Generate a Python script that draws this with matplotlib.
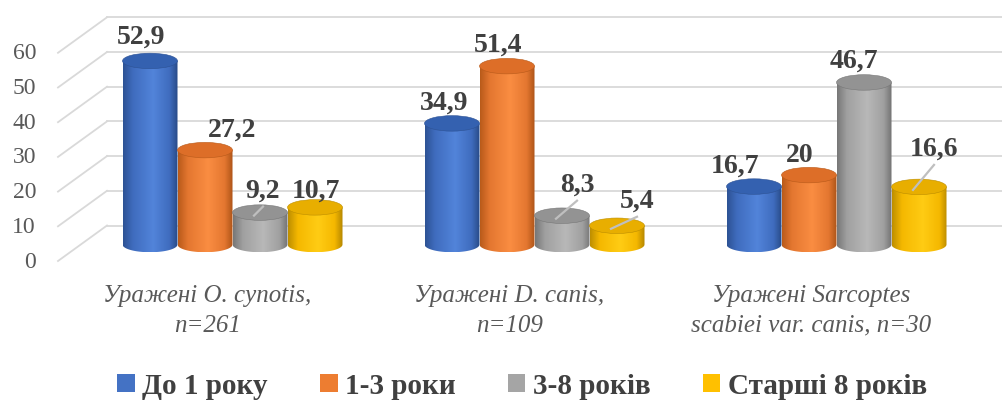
import numpy as np
import matplotlib.pyplot as plt
from matplotlib.patches import Ellipse, PathPatch, Patch
from matplotlib.path import Path
from matplotlib.colors import LinearSegmentedColormap
from matplotlib.transforms import IdentityTransform

plt.rcParams['font.family'] = ['Liberation Serif', 'DejaVu Serif']

# data
categories = ["Уражені O. cynotis,\nn=261",
              "Уражені D. canis,\nn=109",
              "Уражені Sarcoptes\nscabiei var. canis, n=30"]
series_names = ["До 1 року", "1-3 роки", "3-8 років", "Старші 8 років"]
age_0_1 = [52.9, 34.9, 16.7]
age_1_3 = [27.2, 51.4, 20]
age_3_8 = [9.2, 8.3, 46.7]
age_8_plus = [10.7, 5.4, 16.6]
y_ticks = [0, 10, 20, 30, 40, 50, 60]

values = [age_0_1, age_1_3, age_3_8, age_8_plus]

# cylinder colours: (left edge, mid, highlight, right edge, top face, legend)
palette = [
    ("#2d5294", "#3f6cbe", "#5284da", "#284a86", "#3461b0", "#4472c4"),
    ("#b85a1a", "#e47730", "#fa8d42", "#ad5418", "#dd6e28", "#ed7d31"),
    ("#777777", "#a0a0a0", "#b8b8b8", "#727272", "#939393", "#a5a5a5"),
    ("#bd8e00", "#f5b800", "#ffcc14", "#b48600", "#e8ae00", "#ffc000"),
]

# label placement in pixels: (dx from bar centre, baseline height above bar top)
label_shift = [
    [(-9, 17), (-8, 14), (-19, 14)],
    [(27, 13), (-9, 14), (-9, 13)],
    [(3, 15), (15, 24), (-10, 15)],
    [(1, 10), (20, 18), (15, 31)],
]
leader = [
    [False, False, False],
    [False, False, False],
    [True, True, False],
    [False, True, True],
]

W, H, DPI = 10.02, 4.07, 100
fig = plt.figure(figsize=(W, H), dpi=DPI)
ax = fig.add_axes([0, 0, 1, 1])
ax.axis('off')

x_scale = 302.0      # pixels per category
y_scale = 3.47       # pixels per unit
x_first = 232.5      # pixel of the first group centre
y_base = 407 - 244.5 # pixel of the bar floor (from bottom)
xlim = (-x_first / x_scale, (1002 - x_first) / x_scale)
ylim = (-y_base / y_scale, (407 - y_base) / y_scale)
ax.set_xlim(*xlim)
ax.set_ylim(*ylim)

bar_w = 55 / x_scale
ell_h = 15.5 / y_scale
idt = IdentityTransform()


def px(x, y):
    return ax.transData.transform((x, y))


# back wall and side wall gridlines
wall_back_dx, wall_back_dy = 107, 19
front_dx, front_dy = 58, -17.5
grid_c = "#d9d9d9"
for v in y_ticks:
    _, yb = px(0, v)
    ax.plot([wall_back_dx, 1002], [yb + wall_back_dy] * 2, color=grid_c,
            lw=1.3, transform=idt, zorder=0)
    ax.plot([front_dx, wall_back_dx], [yb + front_dy + 1, yb + wall_back_dy],
            color=grid_c, lw=1.3, transform=idt, zorder=0)
    ax.text(36, yb + front_dy, str(v), transform=idt, ha='right', va='center',
            fontsize=17, color="#595959")

# cylinders
t = np.linspace(np.pi, 2 * np.pi, 60)
grad = np.linspace(0, 1, 256).reshape(1, -1)
for s, vals in enumerate(values):
    c_left, c_mid, c_hi, c_right, c_top, _ = palette[s]
    cmap = LinearSegmentedColormap.from_list(
        f"cyl{s}", [(0, c_left), (0.18, c_mid), (0.55, c_hi), (0.85, c_mid), (1, c_right)])
    for g, v in enumerate(vals):
        xc = g + (s - 1.5) * bar_w
        x0, x1 = xc - bar_w / 2, xc + bar_w / 2
        arc_x = xc + bar_w / 2 * np.cos(t)
        arc_y = ell_h / 2 * np.sin(t)
        verts = np.vstack([[x0, v], [x0, 0], np.column_stack([arc_x, arc_y]),
                           [x1, 0], [x1, v], [x0, v]])
        body = PathPatch(Path(verts), facecolor='none', edgecolor='none',
                         transform=ax.transData)
        ax.add_patch(body)
        im = ax.imshow(grad, extent=(x0, x1, -ell_h / 2, v), aspect='auto',
                       cmap=cmap, origin='lower', interpolation='bilinear',
                       zorder=2 + s * 0.1)
        im.set_clip_path(body)
        ax.add_patch(Ellipse((xc, v), bar_w, ell_h, facecolor=c_top,
                             edgecolor=c_left, lw=0.4, zorder=2.05 + s * 0.1))

        dx, dy = label_shift[s][g]
        bx, by = px(xc, v)
        lx, ly = bx + dx, by + dy
        if leader[s][g]:
            ax.plot([bx - 6, lx], [by - 3, ly - 9], color="#bfbfbf", lw=1.6,
                    transform=idt, zorder=4)
        ax.text(lx, ly, f"{v:g}".replace('.', ','), transform=idt,
                ha='center', va='baseline', fontsize=20, fontweight='bold',
                color="#404040", zorder=5)

ax.set_xlim(*xlim)
ax.set_ylim(*ylim)

# category labels sit on the front edge of the floor
for g, name in enumerate(categories):
    cx, _ = px(g, 0)
    ax.text(cx - 25, 407 - 285, name, transform=idt, ha='center', va='top',
            fontsize=18, family=['Liberation Serif'], style='italic',
            color="#595959", linespacing=1.45)

handles = [Patch(facecolor=p[5], edgecolor='none') for p in palette]
fig.legend(handles, series_names, loc='center',
           bbox_to_anchor=(522 / 1002, 1 - 386 / 407), ncol=4, frameon=False,
           prop={'size': 21, 'weight': 'bold'}, labelcolor="#404040",
           handlelength=0.6, handleheight=0.6, handletextpad=0.25,
           columnspacing=1.8)

fig.savefig("out.png", dpi=DPI)
